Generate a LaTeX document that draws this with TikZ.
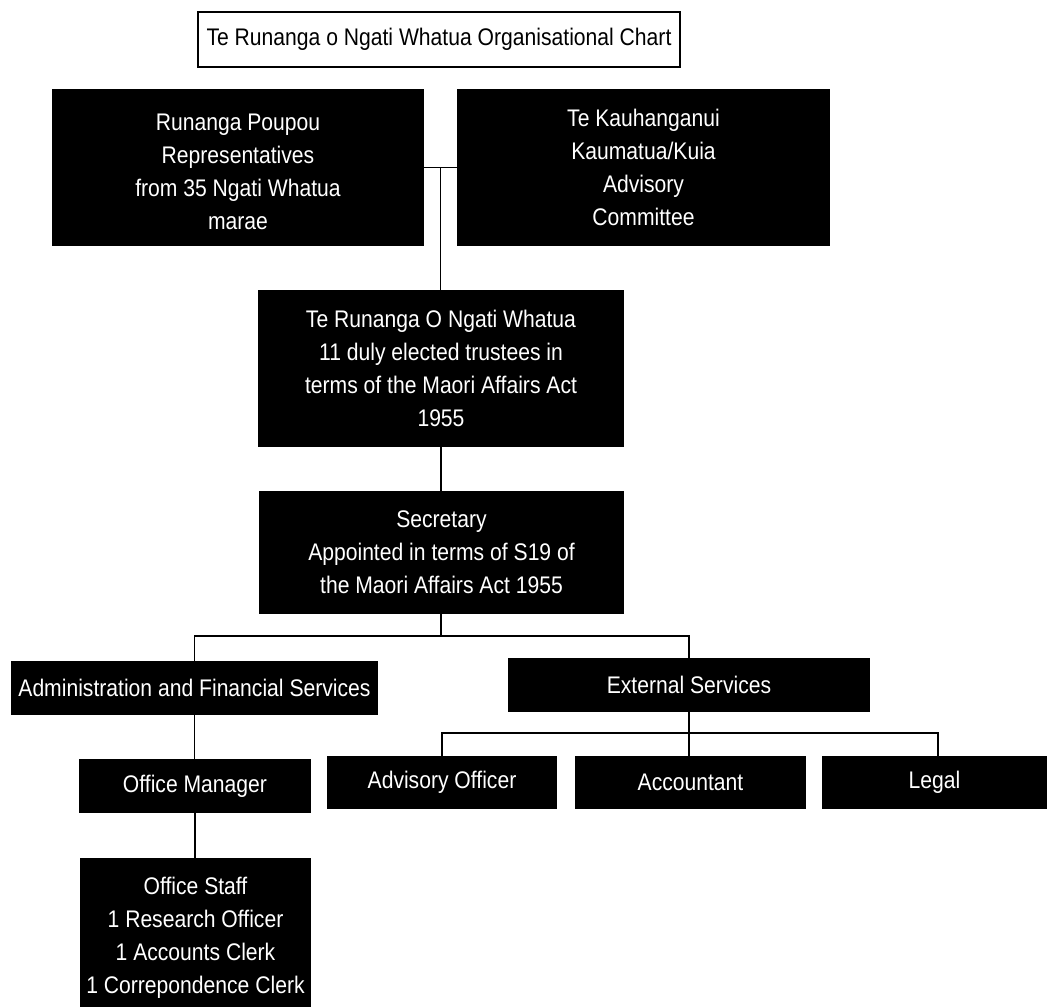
\documentclass[tikz,border=0pt]{standalone}
\usepackage{fontspec}
\setmainfont[FakeStretch=0.88]{Liberation Sans}
\usetikzlibrary{calc}
\begin{document}
\begin{tikzpicture}[x=0.75pt,y=-0.75pt,
  every node/.style={font=\fontsize{18}{24.75}\selectfont},
  bxs/.style={fill=black,text=white,align=center,inner sep=0pt},
  titlebox/.style={draw=black,line width=0.8pt,fill=white,text=black,align=center,inner sep=0pt},
  conn/.style={draw=black,line width=1pt}]
\useasboundingbox (0,0) rectangle (1047,1007);
\node[titlebox,minimum width=361.5pt,minimum height=41.25pt] (title) at (439,39.5) {Te Runanga o Ngati Whatua Organisational Chart};
\node[bxs,minimum width=279pt,minimum height=117.75pt] (RP) at (238,167.5) {\rule{0pt}{19pt}Runanga Poupou\\Representatives\\from 35 Ngati Whatua\\marae};
\node[bxs,minimum width=279.75pt,minimum height=117.75pt] (TK) at (643.5,167.5) {Te Kauhanganui\\Kaumatua/Kuia\\Advisory\\Committee};
\node[bxs,minimum width=274.5pt,minimum height=117.75pt] (TR) at (441,368.5) {Te Runanga O Ngati Whatua\\11 duly elected trustees in\\terms of the Maori Affairs Act\\1955};
\node[bxs,minimum width=273.75pt,minimum height=92.25pt] (Sec) at (441.5,552.5) {Secretary\\Appointed in terms of S19 of\\the Maori Affairs Act 1955};
\node[bxs,minimum width=275.25pt,minimum height=40.5pt] (Adm) at (194.5,688) {Administration and Financial Services};
\node[bxs,minimum width=271.5pt,minimum height=40.5pt] (Ext) at (689,685) {External Services};
\node[bxs,minimum width=172.5pt,minimum height=39.75pt] (Adv) at (442,782.5) {Advisory Officer};
\node[bxs,minimum width=173.25pt,minimum height=39.75pt] (Acc) at (690.5,782.5) {Accountant};
\node[bxs,minimum width=168.75pt,minimum height=39.75pt] (Leg) at (934.5,782.5) {Legal};
\node[bxs,minimum width=174pt,minimum height=40.5pt] (OM) at (195,786) {Office Manager};
\node[bxs,minimum width=173.25pt,minimum height=119.25pt] (OS) at (195.5,937.5) {Office Staff\\1 Research Officer\\1 Accounts Clerk\\1 Correpondence Clerk};
% connectors
\coordinate (j1) at ($(RP.east)!0.5!(TK.west)$);
\draw[conn] (RP.east) -- (TK.west);
\draw[conn] (j1) -- (j1 |- TR.north);
\draw[conn] (TR.south) -- (TR.south |- Sec.north);
\coordinate (b1) at (441,636);
\draw[conn] (Sec.south -| b1) -- (b1);
\draw[conn] (Adm.north) |- (b1) -| (Ext.north);
\coordinate (b2) at (938,733);
\draw[conn] (Ext.south) -- (Ext.south |- Acc.north);
\draw[conn] (Adv.north) |- (b2) -- (b2 |- Leg.north);
\draw[conn] (Adm.south) -- (Adm.south |- OM.north);
\draw[conn] (OM.south) -- (OM.south |- OS.north);
\end{tikzpicture}
\end{document}
